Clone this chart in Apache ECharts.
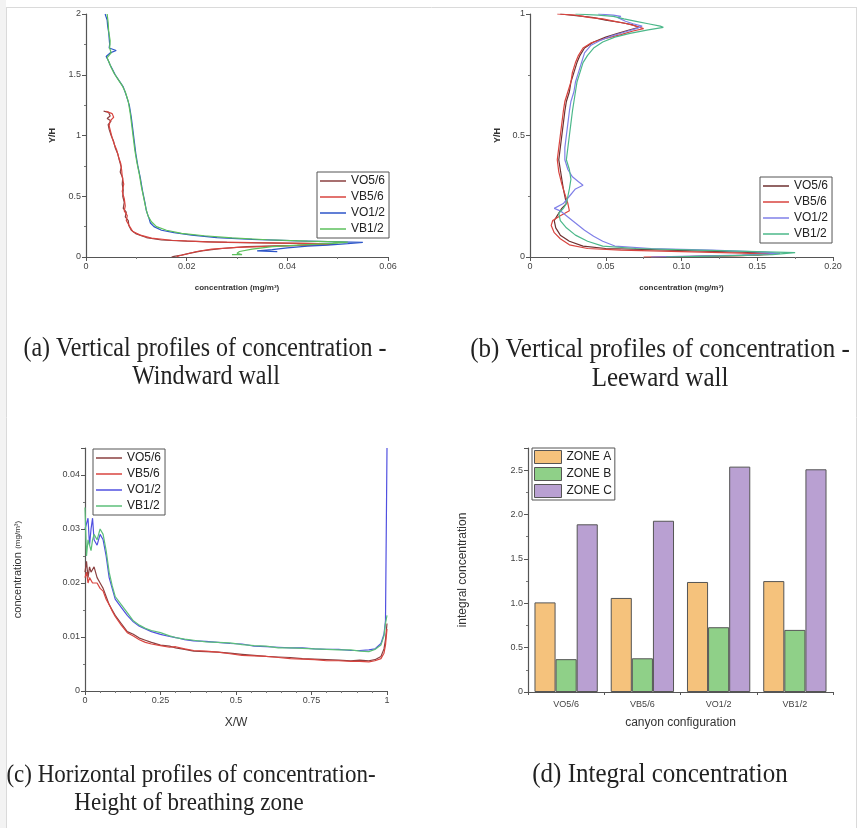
<!DOCTYPE html>
<html><head><meta charset="utf-8">
<script src="https://cdn.jsdelivr.net/npm/echarts@6/dist/echarts.min.js"></script>
<style>html,body{margin:0;padding:0;background:#fff}#c{width:858px;height:828px}</style>
</head><body><div id="c"></div>
<script>
// ---------- DATA ----------
const seriesNames = ['VO5/6', 'VB5/6', 'VO1/2', 'VB1/2'];

// (a) Windward wall: [concentration, Y/H]
const windVO56 = [[0.0035,1.2],[0.0045,1.19],[0.0048,1.16],[0.0042,1.14],[0.0050,1.12],[0.0044,1.09],[0.0046,1.05],[0.0050,1.0],[0.0055,0.95],[0.0058,0.9],[0.0063,0.85],[0.0066,0.8],[0.0070,0.74],[0.0068,0.7],[0.0073,0.65],[0.0072,0.6],[0.0074,0.55],[0.0073,0.5],[0.0076,0.45],[0.0074,0.4],[0.0080,0.37],[0.0078,0.33],[0.0084,0.3],[0.0085,0.26],[0.0090,0.22],[0.0100,0.19],[0.0120,0.16],[0.0150,0.14],[0.0200,0.13],[0.0280,0.12],[0.0380,0.115],[0.0470,0.11],[0.0500,0.105],[0.0420,0.095],[0.0320,0.085],[0.0270,0.07],[0.0230,0.05],[0.0205,0.03],[0.0190,0.015],[0.0175,0.005],[0.0170,0.0]];
const windVB56 = [[0.0040,1.2],[0.0052,1.18],[0.0055,1.15],[0.0048,1.12],[0.0046,1.08],[0.0049,1.03],[0.0052,0.98],[0.0056,0.93],[0.0061,0.88],[0.0065,0.82],[0.0069,0.77],[0.0071,0.71],[0.0072,0.66],[0.0075,0.6],[0.0072,0.54],[0.0076,0.48],[0.0078,0.42],[0.0076,0.38],[0.0082,0.34],[0.0080,0.3],[0.0087,0.25],[0.0093,0.21],[0.0108,0.18],[0.0130,0.155],[0.0170,0.138],[0.0240,0.125],[0.0330,0.118],[0.0430,0.112],[0.0490,0.108],[0.0460,0.1],[0.0380,0.09],[0.0300,0.08],[0.0250,0.065],[0.0220,0.045],[0.0200,0.025],[0.0185,0.01],[0.0180,0.0]];
const windVO12 = [[0.0038,2.0],[0.0042,1.95],[0.0043,1.9],[0.0045,1.85],[0.0046,1.8],[0.0047,1.75],[0.0046,1.72],[0.0060,1.70],[0.0048,1.68],[0.0040,1.65],[0.0044,1.62],[0.0048,1.58],[0.0052,1.55],[0.0058,1.5],[0.0066,1.45],[0.0074,1.4],[0.0080,1.33],[0.0086,1.25],[0.0090,1.15],[0.0093,1.05],[0.0096,0.95],[0.0099,0.85],[0.0103,0.75],[0.0108,0.65],[0.0112,0.55],[0.0117,0.45],[0.0120,0.38],[0.0125,0.32],[0.0128,0.28],[0.0135,0.25],[0.0150,0.22],[0.0175,0.2],[0.0210,0.18],[0.0260,0.16],[0.0330,0.145],[0.0420,0.132],[0.0500,0.125],[0.0550,0.12],[0.0520,0.11],[0.0480,0.098],[0.0440,0.09],[0.0400,0.075],[0.0370,0.06],[0.0340,0.05],[0.0380,0.045]];
const windVB12 = [[0.0042,2.0],[0.0044,1.93],[0.0045,1.86],[0.0048,1.78],[0.0047,1.72],[0.0050,1.68],[0.0042,1.64],[0.0046,1.6],[0.0050,1.56],[0.0056,1.51],[0.0064,1.46],[0.0072,1.41],[0.0078,1.36],[0.0084,1.28],[0.0088,1.18],[0.0091,1.08],[0.0094,0.98],[0.0097,0.88],[0.0101,0.78],[0.0106,0.68],[0.0110,0.58],[0.0115,0.48],[0.0119,0.4],[0.0123,0.34],[0.0130,0.29],[0.0140,0.25],[0.0160,0.22],[0.0190,0.195],[0.0235,0.175],[0.0290,0.158],[0.0360,0.142],[0.0440,0.13],[0.0520,0.122],[0.0490,0.112],[0.0430,0.1],[0.0370,0.085],[0.0330,0.065],[0.0305,0.045],[0.0300,0.03],[0.0310,0.02],[0.0290,0.02]];

// (b) Leeward wall: [concentration, Y/H]
const leeVO56 = [[0.020,1.0],[0.035,0.99],[0.042,0.985],[0.050,0.975],[0.060,0.965],[0.068,0.955],[0.072,0.945],[0.066,0.935],[0.058,0.92],[0.050,0.905],[0.042,0.885],[0.036,0.86],[0.033,0.83],[0.031,0.8],[0.029,0.76],[0.027,0.72],[0.026,0.68],[0.024,0.64],[0.023,0.6],[0.022,0.55],[0.021,0.5],[0.020,0.45],[0.019,0.4],[0.020,0.36],[0.021,0.32],[0.022,0.28],[0.023,0.25],[0.024,0.22],[0.021,0.2],[0.018,0.17],[0.016,0.15],[0.017,0.12],[0.020,0.09],[0.026,0.065],[0.035,0.045],[0.050,0.035],[0.080,0.03],[0.110,0.025],[0.140,0.02],[0.160,0.015],[0.150,0.008],[0.120,0.004],[0.090,0.0]];
const leeVB56 = [[0.018,1.0],[0.030,0.995],[0.040,0.985],[0.048,0.98],[0.056,0.97],[0.064,0.96],[0.070,0.95],[0.075,0.94],[0.068,0.93],[0.060,0.915],[0.050,0.9],[0.040,0.88],[0.035,0.86],[0.032,0.83],[0.030,0.8],[0.028,0.76],[0.027,0.72],[0.025,0.68],[0.023,0.64],[0.022,0.6],[0.021,0.55],[0.020,0.5],[0.019,0.45],[0.018,0.4],[0.019,0.35],[0.021,0.3],[0.023,0.26],[0.025,0.22],[0.026,0.19],[0.020,0.17],[0.015,0.15],[0.014,0.13],[0.016,0.1],[0.020,0.075],[0.026,0.05],[0.038,0.035],[0.060,0.028],[0.100,0.022],[0.140,0.016],[0.162,0.012],[0.140,0.006],[0.100,0.002],[0.075,0.0]];
const leeVO12 = [[0.045,1.0],[0.055,0.995],[0.060,0.99],[0.058,0.985],[0.063,0.97],[0.068,0.96],[0.074,0.95],[0.070,0.94],[0.062,0.925],[0.054,0.91],[0.046,0.89],[0.040,0.87],[0.036,0.84],[0.034,0.8],[0.032,0.76],[0.030,0.72],[0.029,0.68],[0.027,0.64],[0.026,0.6],[0.025,0.55],[0.024,0.5],[0.023,0.45],[0.023,0.4],[0.025,0.36],[0.028,0.33],[0.032,0.31],[0.035,0.295],[0.030,0.28],[0.026,0.25],[0.022,0.22],[0.016,0.2],[0.020,0.19],[0.024,0.17],[0.030,0.14],[0.036,0.11],[0.042,0.085],[0.048,0.065],[0.056,0.045],[0.080,0.035],[0.120,0.028],[0.155,0.02],[0.165,0.015],[0.140,0.008],[0.100,0.003],[0.080,0.0]];
const leeVB12 = [[0.030,1.0],[0.045,0.995],[0.055,0.99],[0.062,0.98],[0.070,0.97],[0.078,0.96],[0.086,0.95],[0.088,0.945],[0.078,0.935],[0.066,0.92],[0.056,0.905],[0.048,0.885],[0.042,0.86],[0.038,0.83],[0.035,0.8],[0.033,0.76],[0.031,0.72],[0.030,0.68],[0.029,0.64],[0.028,0.6],[0.027,0.55],[0.026,0.5],[0.025,0.45],[0.024,0.4],[0.026,0.36],[0.027,0.32],[0.026,0.28],[0.025,0.25],[0.024,0.22],[0.022,0.2],[0.019,0.18],[0.020,0.15],[0.024,0.12],[0.030,0.09],[0.038,0.065],[0.048,0.045],[0.070,0.035],[0.110,0.028],[0.150,0.022],[0.175,0.018],[0.160,0.01],[0.120,0.004],[0.090,0.0]];

// (c) Horizontal profiles: X/W positions and concentrations
const xsC = [0,0.005,0.01,0.015,0.02,0.025,0.03,0.04,0.05,0.06,0.07,0.08,0.09,0.1,0.12,0.14,0.16,0.18,0.2,0.22,0.25,0.28,0.3,0.33,0.36,0.4,0.44,0.48,0.52,0.56,0.6,0.64,0.68,0.72,0.76,0.8,0.84,0.88,0.91,0.94,0.96,0.98,0.99,0.995,1.0];
const horVO56 = [0.022,0.024,0.021,0.023,0.022,0.0225,0.023,0.021,0.020,0.019,0.0175,0.016,0.015,0.014,0.0125,0.011,0.0105,0.0098,0.0094,0.009,0.0085,0.0083,0.008,0.0077,0.0074,0.0073,0.0072,0.007,0.0068,0.0066,0.0064,0.0063,0.0062,0.006,0.0059,0.0058,0.0057,0.0056,0.0057,0.0056,0.0058,0.0064,0.0078,0.0095,0.0125];
const horVB56 = [0.021,0.022,0.020,0.021,0.021,0.020,0.020,0.020,0.019,0.0185,0.017,0.016,0.0148,0.0138,0.0122,0.0108,0.0102,0.0095,0.009,0.0087,0.0084,0.0081,0.0082,0.0078,0.0075,0.0074,0.0072,0.0069,0.0066,0.0065,0.0064,0.0062,0.006,0.0059,0.0058,0.0056,0.0056,0.0055,0.0055,0.0054,0.0056,0.006,0.007,0.0085,0.0115];
const horVO12 = [0.030,0.031,0.032,0.027,0.030,0.032,0.028,0.027,0.029,0.028,0.025,0.021,0.019,0.017,0.0155,0.014,0.0128,0.012,0.0115,0.011,0.0105,0.0101,0.0099,0.0095,0.0093,0.0092,0.009,0.0088,0.0087,0.0083,0.0082,0.0081,0.008,0.008,0.0078,0.0077,0.0077,0.0075,0.0075,0.0076,0.0078,0.0088,0.0105,0.013,0.045];
const horVB12 = [0.034,0.025,0.028,0.027,0.026,0.028,0.029,0.028,0.030,0.029,0.026,0.022,0.0195,0.0175,0.016,0.0145,0.013,0.0122,0.0116,0.0112,0.0108,0.0102,0.0099,0.0096,0.0094,0.0091,0.009,0.0089,0.0086,0.0084,0.0083,0.008,0.008,0.0079,0.0078,0.0077,0.0076,0.0076,0.0074,0.0073,0.0077,0.0085,0.0102,0.0125,0.014];

// (d) Integral concentration
const configs = ['VO5/6', 'VB5/6', 'VO1/2', 'VB1/2'];
const zoneA = [1.01, 1.06, 1.24, 1.25];
const zoneB = [0.37, 0.38, 0.73, 0.70];
const zoneC = [1.89, 1.93, 2.54, 2.51];
const zoneNames = ['ZONE A', 'ZONE B', 'ZONE C'];

// ---------- STYLES ----------
const colA = ['#8b4040', '#d9443f', '#2c55c8', '#5cc05c'];
const colB = ['#6e3030', '#d9443f', '#8080e8', '#4cb88a'];
const colC = ['#8b4040', '#d9443f', '#5050e0', '#5cbf7a'];
const barCols = ['#f5c27c', '#8fd088', '#b9a0d2'];

const SANS = '"Liberation Sans", Arial, sans-serif';
function valAxis(gi, o) {
  return Object.assign({
    type: 'value', gridIndex: gi,
    axisLine: { show: true, onZero: false, lineStyle: { color: '#555', width: 1.2 } },
    axisTick: { show: true, length: 4, lineStyle: { color: '#555' } },
    minorTick: { show: true, splitNumber: 2, length: 2, lineStyle: { color: '#777' } },
    splitLine: { show: false },
    axisLabel: { fontFamily: SANS, fontSize: 9, color: '#444', margin: 5 },
    nameLocation: 'middle',
    nameTextStyle: { fontFamily: SANS, fontSize: 8, fontWeight: 'bold', color: '#333' }
  }, o);
}
// each panel gets its own series names (suffix of spaces) so that legends pick the right series
function panelName(n, p) { return n + ' '.repeat(p); }
function lines(gi, sets, cols) {
  return sets.map((d, i) => ({
    type: 'line', name: panelName(seriesNames[i], gi), xAxisIndex: gi, yAxisIndex: gi,
    data: d, symbol: 'none', showSymbol: false, clip: true, animation: false,
    lineStyle: { color: cols[i], width: 1.2 }, itemStyle: { color: cols[i] }
  }));
}
function lineLegend(gi, left, top) {
  return {
    orient: 'vertical', left: left, top: top, selectedMode: false,
    backgroundColor: '#fff', borderColor: '#555', borderWidth: 1,
    padding: [3, 4, 3, 3], itemGap: 4, itemWidth: 26, itemHeight: 1.5,
    textStyle: { fontFamily: SANS, fontSize: 12, color: '#222' },
    formatter: n => n.trim(),
    data: seriesNames.map(n => ({ name: panelName(n, gi), icon: 'rect' }))
  };
}

const fmt2 = v => v === 0 ? '0' : v.toFixed(2);
const fmt1 = v => v === 0 ? '0' : v.toFixed(1);

const chart = echarts.init(document.getElementById('c'), null, { renderer: 'canvas' });
function cap(text, x, y, size) {
  return { type: 'text', x: x, y: y, scaleY: 1.12, z: 10,
    style: { text: text, font: size + 'px "Liberation Serif", "Times New Roman", serif', fill: '#222', textAlign: 'center', textVerticalAlign: 'middle' } };
}
const nameBig = { fontFamily: SANS, fontSize: 12, color: '#333' };

const option = {
  animation: false,
  backgroundColor: '#fff',
  grid: [
    { left: 86, top: 14, width: 302, height: 243 },
    { left: 530, top: 14, width: 303, height: 243 },
    { left: 85, top: 448, width: 302, height: 243 },
    { left: 528, top: 448, width: 305, height: 244 }
  ],
  xAxis: [
    valAxis(0, { min: 0, max: 0.06, interval: 0.02, name: 'concentration (mg/m³)', nameGap: 27 }),
    valAxis(1, { min: 0, max: 0.2, interval: 0.05, name: 'concentration (mg/m³)', nameGap: 27, axisLabel: { fontFamily: SANS, fontSize: 9, color: '#444', margin: 5, formatter: fmt2 } }),
    valAxis(2, { min: 0, max: 1, interval: 0.25, minorTick: { show: true, splitNumber: 5, length: 2, lineStyle: { color: '#777' } }, name: 'X/W', nameGap: 26, nameTextStyle: nameBig }),
    { type: 'category', gridIndex: 3, data: configs,
      axisLine: { show: true, lineStyle: { color: '#555', width: 1.2 } },
      axisTick: { show: true, length: 3, lineStyle: { color: '#555' } },
      axisLabel: { fontFamily: SANS, fontSize: 9, color: '#444', margin: 8 },
      name: 'canyon configuration', nameLocation: 'middle', nameGap: 25,
      nameTextStyle: nameBig }
  ],
  yAxis: [
    valAxis(0, { min: 0, max: 2, interval: 0.5, name: 'Y/H', nameGap: 29, nameTextStyle: { fontFamily: SANS, fontSize: 9, fontWeight: 'bold', color: '#333' } }),
    valAxis(1, { min: 0, max: 1, interval: 0.5, name: 'Y/H', nameGap: 28, nameTextStyle: { fontFamily: SANS, fontSize: 9, fontWeight: 'bold', color: '#333' } }),
    valAxis(2, { min: 0, max: 0.045, interval: 0.01, axisLabel: { fontFamily: SANS, fontSize: 9, color: '#444', margin: 5, showMaxLabel: false },
      name: '{a|concentration} {b|(mg/m³)}', nameGap: 61,
      nameTextStyle: { rich: { a: { fontFamily: SANS, fontSize: 11, color: '#333' }, b: { fontFamily: SANS, fontSize: 8, color: '#333' } } } }),
    valAxis(3, { min: 0, max: 2.75, interval: 0.5, axisLabel: { fontFamily: SANS, fontSize: 9, color: '#444', margin: 5, showMaxLabel: false, formatter: fmt1 },
      name: 'integral concentration', nameGap: 59, nameTextStyle: nameBig })
  ],
  legend: [
    lineLegend(0, 317, 172),
    lineLegend(1, 760, 177),
    lineLegend(2, 93, 449),
    { orient: 'vertical', left: 532, top: 448, selectedMode: false,
      backgroundColor: '#fff', borderColor: '#555', borderWidth: 1,
      padding: [2, 3, 2, 2], itemGap: 3, itemWidth: 27, itemHeight: 13,
      textStyle: { fontFamily: SANS, fontSize: 12, color: '#222' },
      itemStyle: { borderColor: '#555', borderWidth: 1 },
      data: zoneNames.map(n => ({ name: n, icon: 'rect' })) }
  ],
  series: [].concat(
    lines(0, [windVO56, windVB56, windVO12, windVB12], colA),
    lines(1, [leeVO56, leeVB56, leeVO12, leeVB12], colB),
    lines(2, [horVO56, horVB56, horVO12, horVB12].map(v => v.map((c, k) => [xsC[k], c])), colC),
    [zoneA, zoneB, zoneC].map((d, i) => ({
      type: 'bar', name: zoneNames[i], xAxisIndex: 3, yAxisIndex: 3, data: d,
      barGap: '0%', barCategoryGap: '17%',
      itemStyle: { color: barCols[i], borderColor: '#555', borderWidth: 1 }
    }))
  ),
  graphic: [
    { type: 'rect', shape: { x: 0, y: 0, width: 6, height: 828 }, style: { fill: '#f3f3f3' }, z: 0 },
    { type: 'line', shape: { x1: 6.5, y1: 7, x2: 6.5, y2: 828 }, style: { stroke: '#dadada', lineWidth: 1 } },
    { type: 'line', shape: { x1: 6, y1: 7.5, x2: 857, y2: 7.5 }, style: { stroke: '#dadada', lineWidth: 1 } },
    { type: 'line', shape: { x1: 856.5, y1: 7, x2: 856.5, y2: 828 }, style: { stroke: '#dadada', lineWidth: 1 } },
    cap('(a) Vertical profiles of concentration -', 205, 349, 24),
    cap('Windward wall', 206, 377, 24),
    cap('(b) Vertical profiles of concentration -', 660, 350, 25),
    cap('Leeward wall', 660, 379, 25),
    cap('(c) Horizontal profiles of concentration-', 191, 775, 23),
    cap('Height of breathing zone', 189, 803, 23),
    cap('(d) Integral concentration', 660, 775, 25)
  ]
};
chart.setOption(option);
</script></body></html>
